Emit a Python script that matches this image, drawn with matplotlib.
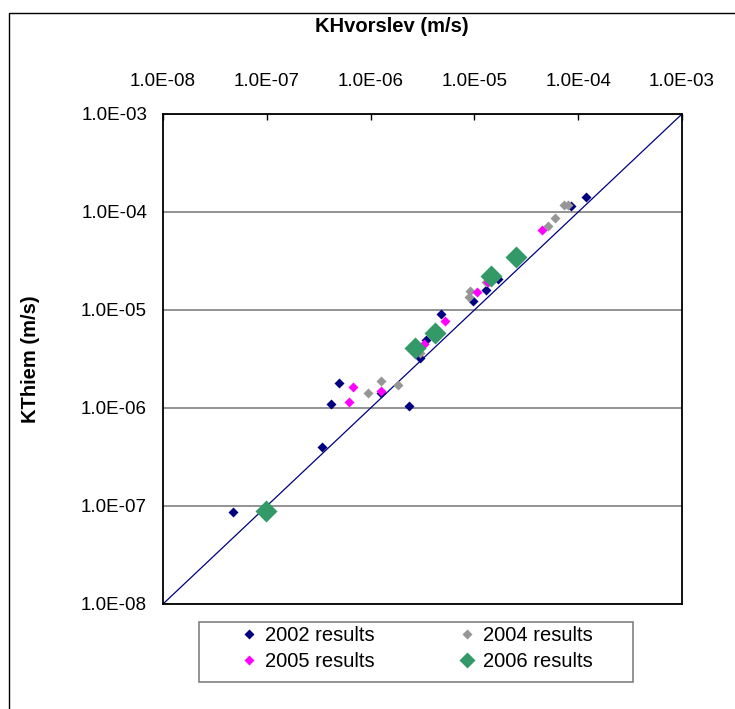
import numpy as np
import matplotlib
matplotlib.use('Agg')
import matplotlib.pyplot as plt
from matplotlib.patches import Rectangle
from matplotlib.ticker import FuncFormatter, LogLocator, NullLocator

plt.rcParams['font.family'] = ['Liberation Sans', 'DejaVu Sans']

# KHvorslev (x) / KThiem (y) in m/s
x2002 = [4.7e-8, 3.4e-7, 4.2e-7, 5.0e-7, 1.27e-6, 2.37e-6, 3.0e-6, 3.4e-6,
         4.8e-6, 9.8e-6, 1.29e-5, 1.7e-5, 8.5e-5, 1.19e-4]
y2002 = [8.6e-8, 4.0e-7, 1.09e-6, 1.78e-6, 1.43e-6, 1.05e-6, 3.25e-6, 5.0e-6,
         9.1e-6, 1.23e-5, 1.6e-5, 2.06e-5, 1.16e-4, 1.41e-4]

x2004 = [9.4e-7, 1.27e-6, 1.83e-6, 3.0e-6, 8.8e-6, 9.0e-6, 1.29e-5,
         5.07e-5, 6.0e-5, 7.3e-5, 7.9e-5]
y2004 = [1.43e-6, 1.88e-6, 1.73e-6, 3.6e-6, 1.37e-5, 1.58e-5, 1.91e-5,
         7.2e-5, 8.6e-5, 1.17e-4, 1.17e-4]

x2005 = [6.2e-7, 6.8e-7, 1.27e-6, 3.3e-6, 5.2e-6, 1.05e-5, 1.34e-5, 4.5e-5]
y2005 = [1.15e-6, 1.63e-6, 1.49e-6, 4.5e-6, 7.7e-6, 1.54e-5, 1.91e-5, 6.6e-5]

x2006 = [9.8e-8, 2.65e-6, 4.2e-6, 1.45e-5, 2.52e-5]
y2006 = [8.9e-8, 4.1e-6, 5.85e-6, 2.2e-5, 3.5e-5]

W, H = 735, 709
fig = plt.figure(figsize=(W / 100, H / 100), dpi=100)
ax = fig.add_axes([163 / W, 1 - 604 / H, (682 - 163) / W, (604 - 114) / H])

# 1:1 line
ax.plot([1e-8, 1e-3], [1e-8, 1e-3], color='#000080', lw=0.9, zorder=2)

h1, = ax.plot(x2002, y2002, 'D', color='#000080', ms=5.5, mec='none', zorder=3)
h2, = ax.plot(x2004, y2004, 'D', color='#969696', ms=5.5, mec='none', zorder=4)
h3, = ax.plot(x2005, y2005, 'D', color='#FF00FF', ms=5.5, mec='none', zorder=5)
h4, = ax.plot(x2006, y2006, 'D', color='#339966', ms=11, mec='none', zorder=6)

ax.set_xscale('log')
ax.set_yscale('log')
ax.set_xlim(1e-8, 1e-3)
ax.set_ylim(1e-8, 1e-3)

fmt = FuncFormatter(lambda v, p: f'{v:.1E}')
ax.xaxis.set_major_locator(LogLocator(base=10, numticks=10))
ax.yaxis.set_major_locator(LogLocator(base=10, numticks=10))
ax.xaxis.set_minor_locator(NullLocator())
ax.yaxis.set_minor_locator(NullLocator())
ax.xaxis.set_major_formatter(fmt)
ax.yaxis.set_major_formatter(fmt)

ax.xaxis.tick_top()
ax.tick_params(axis='x', direction='in', length=4, width=1, pad=17.5, labelsize=13.5)
ax.tick_params(axis='y', length=0, pad=11.5, labelsize=13.5)

ax.grid(axis='y', color='#808080', lw=1.2)
ax.set_axisbelow(True)
for s in ax.spines.values():
    s.set_linewidth(1.3)
    s.set_color('black')

fig.text(392 / W, 1 - 27 / H, 'KHvorslev (m/s)', ha='center', va='center',
         fontsize=14.5, fontweight='bold')
fig.text(31 / W, 1 - 359 / H, 'KThiem (m/s)', ha='center', va='center',
         rotation=90, fontsize=14.5, fontweight='bold')

# legend box frame
fig.patches.append(Rectangle((199 / W, 1 - 682 / H), (633 - 199) / W, (682 - 622) / H,
                             transform=fig.transFigure, fill=False, lw=1.2,
                             edgecolor='#808080'))

leg = fig.legend([h1, h3, h2, h4],
                 ['2002 results', '2005 results', '2004 results', '2006 results'],
                 ncol=2, loc='center', bbox_to_anchor=(413 / W, 1 - 648.5 / H),
                 fontsize=14.5, frameon=False, borderpad=0, labelspacing=0.38,
                 handletextpad=0.0, handlelength=1.6, columnspacing=3.8,
                 borderaxespad=0)
for lh, ms in zip(leg.legend_handles, [4.8, 4.8, 4.8, 8]):
    lh.set_markersize(ms)

# outer chart border
fig.patches.append(Rectangle((9 / W, -0.1), 1.2, 1.1 - 13 / H, transform=fig.transFigure,
                             fill=False, lw=1, edgecolor='black'))

fig.savefig('out.png', dpi=100)
